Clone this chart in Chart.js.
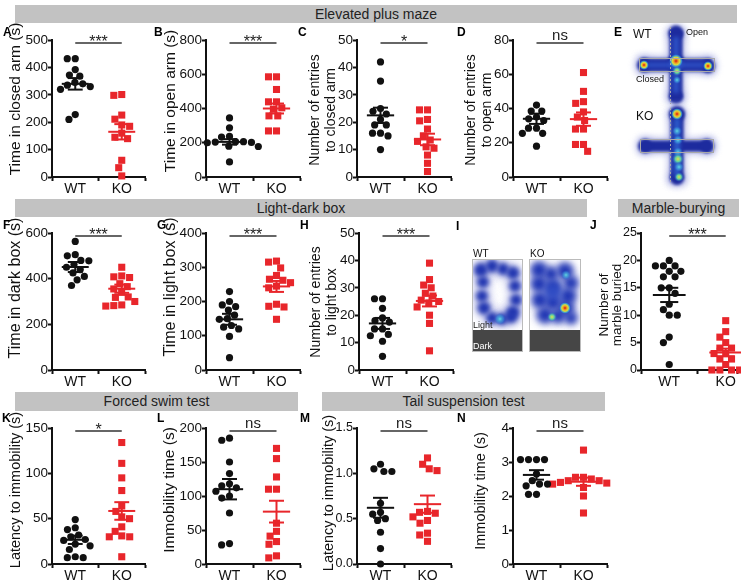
<!DOCTYPE html>
<html>
<head>
<meta charset="utf-8">
<script src="https://cdn.jsdelivr.net/npm/chart.js@4"></script>
<style>
  body { margin: 0; background: #fff; font-family: 'Liberation Sans', Arial, sans-serif; }
  #fig { position: relative; width: 741px; height: 581px; overflow: hidden; }
  .bar { position: absolute; background: #c2c2c2; color: #222; font-size: 14px; text-align: center; }
  .lbl { position: absolute; font-weight: bold; font-size: 12px; line-height: 1; color: #000; }
  canvas { position: absolute; }
</style>
</head>
<body>
<div id="fig">
  <canvas id="art" width="741" height="581" style="left:0;top:0"></canvas>
  <div class="bar" style="left:15px;top:5px;width:722px;height:18px;line-height:18px">Elevated plus maze</div>
  <div class="bar" style="left:15px;top:199px;width:572px;height:18px;line-height:18px">Light-dark box</div>
  <div class="bar" style="left:618px;top:199px;width:121px;height:18px;line-height:18px">Marble-burying</div>
  <div class="bar" style="left:15px;top:392px;width:283px;height:19px;line-height:19px">Forced swim test</div>
  <div class="bar" style="left:322px;top:392px;width:283px;height:19px;line-height:19px">Tail suspension test</div>
  <div class="lbl" style="left:3px;top:26px">A</div>
  <div class="lbl" style="left:154px;top:26px">B</div>
  <div class="lbl" style="left:298px;top:26px">C</div>
  <div class="lbl" style="left:457px;top:26px">D</div>
  <div class="lbl" style="left:614px;top:26px">E</div>
  <div class="lbl" style="left:3px;top:219px">F</div>
  <div class="lbl" style="left:157px;top:219px">G</div>
  <div class="lbl" style="left:300px;top:219px">H</div>
  <div class="lbl" style="left:456px;top:220px">I</div>
  <div class="lbl" style="left:590px;top:219px">J</div>
  <div class="lbl" style="left:2px;top:412px">K</div>
  <div class="lbl" style="left:157px;top:412px">L</div>
  <div class="lbl" style="left:300px;top:412px">M</div>
  <div class="lbl" style="left:457px;top:412px">N</div>
</div>
<script>
const FONT = "'Liberation Sans', Arial, sans-serif";
const RED = "#e8262b";
const BLACK = "#111";

const groups = ["WT", "KO"];

// A - elevated plus maze, time in closed arm
const closedArmWT = [432, 432, 392, 372, 368, 345, 340, 335, 330, 320, 228, 210];
const closedArmKO = [301, 298, 226, 211, 190, 185, 160, 145, 140, 61, 34, 4];
const closedArmMean = [340, 165];
const closedArmSem = [21, 28];
const closedArmTicks = [0, 100, 200, 300, 400, 500];

// B - time in open arm
const openArmWT = [345, 287, 237, 233, 206, 206, 204, 202, 200, 180, 178, 88];
const openArmKO = [585, 585, 511, 439, 439, 404, 396, 357, 357, 269, 269];
const openArmMean = [205, 400];
const openArmSem = [16, 29];
const openArmTicks = [0, 200, 400, 600, 800];

// C - entries to closed arm
const closedEntryWT = [42, 35, 25, 24, 23, 21, 19, 19, 16, 16, 15, 10];
const closedEntryKO = [24.5, 24.5, 21, 20.5, 17.5, 15, 13.5, 13, 11, 10.5, 8, 5, 2];
const closedEntryMean = [22.5, 13.7];
const closedEntrySem = [2.8, 2.1];
const closedEntryTicks = [0, 10, 20, 30, 40, 50];

// D - entries to open arm
const openEntryWT = [42, 38.5, 38.5, 35, 34, 33, 28.5, 28.5, 25.5, 25.5, 18];
const openEntryKO = [61, 50, 44, 43, 38, 35, 33, 28, 28, 19, 19, 15];
const openEntryMean = [34, 33.8];
const openEntrySem = [3, 3.9];
const openEntryTicks = [0, 20, 40, 60, 80];

// F - light-dark box, time in dark box
const darkBoxWT = [563, 505, 500, 480, 478, 462, 450, 440, 425, 410, 395, 370];
const darkBoxKO = [450, 412, 408, 405, 378, 365, 355, 340, 320, 318, 300, 285, 282, 280];
const darkBoxMean = [451, 356];
const darkBoxSem = [22, 18];
const darkBoxTicks = [0, 200, 400, 600];

// G - time in light box
const lightBoxWT = [229, 200, 190, 185, 175, 160, 150, 148, 130, 125, 120, 98, 36];
const lightBoxKO = [318, 315, 298, 276, 265, 262, 255, 245, 240, 192, 186, 184, 148];
const lightBoxMean = [148, 244];
const lightBoxSem = [16, 16];
const lightBoxTicks = [0, 100, 200, 300, 400];

// H - entries to light box
const lightEntryWT = [26, 26, 22.5, 19, 18, 17.5, 15, 15, 13, 12.5, 10.5, 5];
const lightEntryKO = [39, 33, 31, 30, 28, 27, 25.5, 25, 24.5, 23, 20, 17, 7];
const lightEntryMean = [17, 25.2];
const lightEntrySem = [2, 2];
const lightEntryTicks = [0, 10, 20, 30, 40, 50];

// J - marble burying
const marbleWT = [20, 19, 19, 19, 18, 18, 17, 17, 15, 15, 14, 12, 11, 10, 10, 6, 5, 1];
const marbleKO = [9, 7, 6, 5, 4, 4, 3, 3, 2, 2, 1, 0, 0, 0, 0];
const marbleMean = [13.7, 3.2];
const marbleSem = [1.3, 0.7];
const marbleTicks = [0, 5, 10, 15, 20, 25];

// K - forced swim, latency to immobility
const swimLatencyWT = [49, 40, 38, 32, 30, 27, 26, 22, 20, 16, 8, 7, 7];
const swimLatencyKO = [134, 111, 95, 81, 64, 58, 52, 50, 41, 36, 31, 30, 30, 8];
const swimLatencyMean = [26.7, 58.5];
const swimLatencySem = [4.6, 9.7];
const swimLatencyTicks = [0, 50, 100, 150];

// L - forced swim, immobility time
const swimImmobileWT = [185, 182, 150, 133, 118, 115, 112, 107, 100, 97, 75, 30, 28];
const swimImmobileKO = [170, 155, 128, 110, 110, 60, 48, 41, 33, 29, 12, 9];
const swimImmobileMean = [110, 77];
const swimImmobileSem = [15, 16];
const swimImmobileTicks = [0, 50, 100, 150, 200];

// M - tail suspension, latency to immobility
const tailLatencyWT = [1.10, 1.05, 1.02, 1.02, 0.67, 0.57, 0.55, 0.50, 0.48, 0.35, 0.17, 0.0];
const tailLatencyKO = [1.17, 1.10, 1.05, 1.03, 0.58, 0.57, 0.56, 0.52, 0.48, 0.45, 0.34, 0.32, 0.25];
const tailLatencyMean = [0.62, 0.66];
const tailLatencySem = [0.11, 0.095];
const tailLatencyTicks = [0, 0.5, 1.0, 1.5];

// N - tail suspension, immobility time
const tailImmobileWT = [3.07, 3.07, 3.07, 3.07, 2.65, 2.45, 2.35, 2.35, 2.30, 2.05, 2.05];
const tailImmobileKO = [3.35, 2.55, 2.55, 2.5, 2.45, 2.45, 2.4, 2.38, 2.35, 2.25, 2.0, 1.5];
const tailImmobileMean = [2.62, 2.42];
const tailImmobileSem = [0.14, 0.12];
const tailImmobileTicks = [0, 1, 2, 3, 4];

// panel placement (page pixels)
const panels = [
  { wt: closedArmWT, ko: closedArmKO, mean: closedArmMean, sem: closedArmSem, ticks: closedArmTicks,
    title: ["Time in closed arm (s)"], sig: "***", axisX: 52, right: 145, top: 40, bottom: 177, titleX: 16, titleY: 99, titleSize: 15.5 },
  { wt: openArmWT, ko: openArmKO, mean: openArmMean, sem: openArmSem, ticks: openArmTicks,
    title: ["Time in open arm (s)"], sig: "***", axisX: 206, right: 300, top: 40, bottom: 177, titleX: 170.5, titleY: 101, titleSize: 15.5 },
  { wt: closedEntryWT, ko: closedEntryKO, mean: closedEntryMean, sem: closedEntrySem, ticks: closedEntryTicks,
    title: ["Number of entries", "to closed arm"], sig: "*", axisX: 357, right: 451, top: 40, bottom: 177, titleX: 315, titleY: 110, titleSize: 14, lineGap: 16.5 },
  { wt: openEntryWT, ko: openEntryKO, mean: openEntryMean, sem: openEntrySem, ticks: openEntryTicks,
    title: ["Number of entries", "to open arm"], sig: "ns", axisX: 513, right: 607, top: 40, bottom: 177, titleX: 471, titleY: 110, titleSize: 14, lineGap: 16.5 },
  { wt: darkBoxWT, ko: darkBoxKO, mean: darkBoxMean, sem: darkBoxSem, ticks: darkBoxTicks,
    title: ["Time in dark box (s)"], sig: "***", axisX: 52, right: 145, top: 233, bottom: 370, titleX: 16, titleY: 288, titleSize: 16 },
  { wt: lightBoxWT, ko: lightBoxKO, mean: lightBoxMean, sem: lightBoxSem, ticks: lightBoxTicks,
    title: ["Time in light box (s)"], sig: "***", axisX: 206, right: 300, top: 233, bottom: 370, titleX: 170.5, titleY: 287, titleSize: 16 },
  { wt: lightEntryWT, ko: lightEntryKO, mean: lightEntryMean, sem: lightEntrySem, ticks: lightEntryTicks,
    title: ["Number of entries", "to light box"], sig: "***", axisX: 359, right: 453, top: 233, bottom: 370, titleX: 316, titleY: 302, titleSize: 14, lineGap: 16.5 },
  { wt: marbleWT, ko: marbleKO, mean: marbleMean, sem: marbleSem, ticks: marbleTicks,
    title: ["Number of", "marble buried"], sig: "***", axisX: 641, right: 737, top: 233, bottom: 370, titleX: 604.5, titleY: 305, titleSize: 13.5, lineGap: 13, tickSize: 12.5, xMax: 2.2 },
  { wt: swimLatencyWT, ko: swimLatencyKO, mean: swimLatencyMean, sem: swimLatencySem, ticks: swimLatencyTicks,
    title: ["Latency to immobility (s)"], sig: "*", axisX: 52, right: 145, top: 428, bottom: 564, titleX: 16, titleY: 490, titleSize: 14.5 },
  { wt: swimImmobileWT, ko: swimImmobileKO, mean: swimImmobileMean, sem: swimImmobileSem, ticks: swimImmobileTicks,
    title: ["Immobility time (s)"], sig: "ns", axisX: 206, right: 300, top: 428, bottom: 564, titleX: 170, titleY: 490, titleSize: 15.5 },
  { wt: tailLatencyWT, ko: tailLatencyKO, mean: tailLatencyMean, sem: tailLatencySem, ticks: tailLatencyTicks,
    title: ["Latency to immobility (s)"], sig: "ns", axisX: 357, right: 451, top: 428, bottom: 564, titleX: 329, titleY: 493, titleSize: 14.5, tickSize: 12.5, decimals: 1 },
  { wt: tailImmobileWT, ko: tailImmobileKO, mean: tailImmobileMean, sem: tailImmobileSem, ticks: tailImmobileTicks,
    title: ["Immobility time (s)"], sig: "ns", axisX: 513, right: 607, top: 428, bottom: 564, titleX: 481, titleY: 491, titleSize: 14.5 }
];

// lay points out side by side so they do not overlap (like a column scatter)
function swarm(values, center, pxX, pxY, d) {
  const idx = values.map((v, i) => i).sort((a, b) => values[b] - values[a]);
  const placed = [];
  const out = [];
  idx.forEach(i => {
    const y = values[i] * pxY;
    const cands = [0];
    placed.forEach(p => {
      const dy = Math.abs(p.y - y);
      if (dy < d) {
        const dx = Math.sqrt(d * d - dy * dy);
        cands.push(p.x + dx, p.x - dx);
      }
    });
    cands.sort((a, b) => Math.abs(a) - Math.abs(b) || a - b);
    const x = cands.find(c => placed.every(p => (p.x - c) ** 2 + (p.y - y) ** 2 >= d * d - 0.01));
    placed.push({ x, y });
    out[i] = { x: center + x / pxX, y: values[i] };
  });
  return out;
}

function summaryLines(c, m, s, color) {
  return [
    [{ x: c - 0.29, y: m }, { x: c + 0.29, y: m }],
    [{ x: c, y: m - s }, { x: c, y: m + s }],
    [{ x: c - 0.16, y: m + s }, { x: c + 0.16, y: m + s }],
    [{ x: c - 0.16, y: m - s }, { x: c + 0.16, y: m - s }]
  ].map(data => ({
    data, showLine: true, borderColor: color, borderWidth: 2,
    pointRadius: 0, clip: false, order: 0
  }));
}

const sigPlugin = {
  id: "sig",
  afterDatasetsDraw(chart, args, o) {
    const { ctx, chartArea, scales } = chart;
    const x1 = scales.x.getPixelForValue(1);
    const x2 = scales.x.getPixelForValue(2);
    const y = chartArea.top + 3;
    ctx.save();
    ctx.strokeStyle = "#333";
    ctx.lineWidth = 1.5;
    ctx.beginPath();
    ctx.moveTo(x1, y);
    ctx.lineTo(x2, y);
    ctx.stroke();
    ctx.fillStyle = "#222";
    ctx.textAlign = "center";
    ctx.textBaseline = "alphabetic";
    if (o.text === "ns") {
      ctx.font = "15px " + FONT;
      ctx.fillText(o.text, (x1 + x2) / 2, y - 3);
    } else {
      ctx.font = "16px " + FONT;
      ctx.fillText(o.text, (x1 + x2) / 2, y + 4);
    }
    ctx.restore();
  }
};

const yTitlePlugin = {
  id: "ytitle",
  afterDraw(chart, args, o) {
    const ctx = chart.ctx;
    ctx.save();
    ctx.translate(o.x, o.y);
    ctx.rotate(-Math.PI / 2);
    ctx.font = o.size + "px " + FONT;
    ctx.fillStyle = BLACK;
    ctx.textAlign = "center";
    ctx.textBaseline = "middle";
    o.lines.forEach((t, i) => ctx.fillText(t, 0, i * o.gap));
    ctx.restore();
  }
};

Chart.defaults.font.family = FONT;
Chart.defaults.color = BLACK;

const fig = document.getElementById("fig");
const PAD_TOP = 22;
const X_H = 24;

panels.forEach(p => {
  const xMax = p.xMax || 2.5;
  const yMax = p.ticks[p.ticks.length - 1];
  const plotH = p.bottom - p.top;
  const left = Math.round(p.titleX - 12);
  const top = p.top - PAD_TOP;
  const w = Math.ceil(p.right - left + 5);
  const h = PAD_TOP + plotH + X_H;

  const cv = document.createElement("canvas");
  cv.width = w;
  cv.height = h;
  cv.style.left = left + "px";
  cv.style.top = top + "px";
  cv.style.width = w + "px";
  cv.style.height = h + "px";
  fig.appendChild(cv);

  const pxX = (p.right - p.axisX) / (xMax - 0.5);
  const pxY = plotH / yMax;

  const datasets = [
    ...summaryLines(1, p.mean[0], p.sem[0], BLACK),
    ...summaryLines(2, p.mean[1], p.sem[1], RED),
    {
      data: swarm(p.wt, 1, pxX, pxY, 8), pointStyle: "circle", pointRadius: 3.6,
      backgroundColor: BLACK, borderWidth: 0, clip: false, order: 1
    },
    {
      data: swarm(p.ko, 2, pxX, pxY, 8), pointStyle: "rect", pointRadius: 5,
      backgroundColor: RED, borderWidth: 0, clip: false, order: 1
    }
  ];

  const xTicks = [0.5, 1, 1.5, 2, xMax];

  new Chart(cv, {
    type: "scatter",
    data: { datasets },
    plugins: [sigPlugin, yTitlePlugin],
    options: {
      responsive: false,
      maintainAspectRatio: false,
      animation: false,
      events: [],
      layout: { padding: { top: PAD_TOP, right: w - (p.right - left), left: 0, bottom: 0 } },
      plugins: {
        legend: { display: false },
        tooltip: { enabled: false },
        sig: { text: p.sig },
        ytitle: {
          lines: p.title, x: p.titleX - left, y: p.titleY - top,
          size: p.titleSize, gap: p.lineGap || p.titleSize * 1.2
        }
      },
      scales: {
        x: {
          type: "linear",
          min: 0.5,
          max: xMax,
          afterBuildTicks: s => { s.ticks = xTicks.map(v => ({ value: v })); },
          afterFit: s => { s.height = X_H; },
          ticks: {
            autoSkip: false,
            maxRotation: 0,
            padding: 0,
            font: { size: 14 },
            color: BLACK,
            callback: v => (v === 1 ? groups[0] : v === 2 ? groups[1] : "")
          },
          grid: {
            drawOnChartArea: false,
            tickLength: 4,
            tickWidth: 2,
            tickColor: c => (c.tick && c.tick.value % 1 !== 0 ? BLACK : "rgba(0,0,0,0)")
          },
          border: { color: BLACK, width: 2 }
        },
        y: {
          type: "linear",
          min: 0,
          max: yMax,
          afterBuildTicks: s => { s.ticks = p.ticks.map(v => ({ value: v })); },
          afterFit: s => { s.width = p.axisX - left; },
          ticks: {
            padding: 0,
            font: { size: p.tickSize || 13.5 },
            color: BLACK,
            callback: v => (p.decimals ? v.toFixed(p.decimals) : String(v))
          },
          grid: { drawOnChartArea: false, tickLength: 4, tickWidth: 2, tickColor: BLACK },
          border: { color: BLACK, width: 2 }
        }
      }
    }
  });
});

// heat-map thumbnails (panels E and I)
const art = document.getElementById("art").getContext("2d");

function fillShapes(ctx, color, blur, rects, circles) {
  ctx.save();
  ctx.filter = "blur(" + blur + "px)";
  ctx.fillStyle = color;
  rects.forEach(([x, y, w, h]) => ctx.fillRect(x, y, w, h));
  circles.forEach(([x, y, r]) => {
    ctx.beginPath();
    ctx.arc(x, y, r, 0, Math.PI * 2);
    ctx.fill();
  });
  ctx.restore();
}

const HOT = [[0, "#d81010"], [0.3, "#f09a20"], [0.55, "#d8e040"], [0.8, "rgba(60,190,220,0.6)"], [1, "rgba(40,90,210,0)"]];
const WARM = [[0, "#e0e050"], [0.45, "#60d0a0"], [1, "rgba(40,90,210,0)"]];
const COOL = [[0, "#60d8e0"], [0.6, "rgba(60,150,220,0.6)"], [1, "rgba(40,90,210,0)"]];

function spot(ctx, x, y, r, stops) {
  const g = ctx.createRadialGradient(x, y, 0, x, y, r);
  stops.forEach(([o, c]) => g.addColorStop(o, c));
  ctx.fillStyle = g;
  ctx.beginPath();
  ctx.arc(x, y, r, 0, Math.PI * 2);
  ctx.fill();
}

function drawText(ctx, t, x, y, size, color) {
  ctx.font = size + "px " + FONT;
  ctx.fillStyle = color;
  ctx.textAlign = "left";
  ctx.textBaseline = "alphabetic";
  ctx.fillText(t, x, y);
}

// E: elevated plus maze tracks
fillShapes(art, "#b9bde8", 3.5, [[667, 29, 18, 72], [638, 56, 76, 18]], [[676, 33, 9], [676, 97, 9], [644, 65, 9], [708, 66, 9]]);
fillShapes(art, "#1d2b9e", 1.6, [[669.5, 31, 13, 67], [641, 58.5, 70, 13]], [[676, 33, 7.5], [676, 97, 7], [644, 65, 7], [708, 66, 7], [676, 63, 9]]);
fillShapes(art, "#2d52c6", 2, [[673, 37, 6, 56], [647, 62.5, 58, 5]], [[676, 64, 6]]);
spot(art, 676, 61, 7, HOT);
spot(art, 644, 65, 5, HOT);
spot(art, 708, 66, 5, HOT);
spot(art, 677, 71, 5, WARM);
spot(art, 677, 80, 4, COOL);

fillShapes(art, "#b9bde8", 3.5, [[668, 110, 18, 74], [640, 138, 74, 16]], [[677, 114, 9], [677, 178, 9], [645, 146, 9], [707, 146, 9]]);
fillShapes(art, "#1d2b9e", 1.6, [[670.5, 112, 13, 67], [643, 140.5, 66, 11]], [[677, 114, 8], [677, 178, 7], [645, 146, 7], [707, 146, 7]]);
fillShapes(art, "#2d5ccc", 2, [[674, 118, 6, 58]], []);
spot(art, 677, 114, 6, HOT);
spot(art, 677, 131, 5, COOL);
spot(art, 678, 140, 5, COOL);
spot(art, 678, 152, 5, COOL);
spot(art, 678, 159, 6, WARM);
spot(art, 679, 167, 5, COOL);
spot(art, 679, 177, 5, WARM);

art.save();
art.strokeStyle = "#a8a8a8";
art.lineWidth = 1;
art.strokeRect(639.5, 58.5, 75, 13);
art.strokeRect(640.5, 139.5, 73, 13);
art.setLineDash([2, 2]);
art.beginPath();
art.moveTo(670.5, 27);
art.lineTo(670.5, 104);
art.moveTo(670.5, 108);
art.lineTo(670.5, 184);
art.stroke();
art.restore();

drawText(art, "WT", 633, 38, 12, "#111");
drawText(art, "Open", 686, 35, 9, "#111");
drawText(art, "Closed", 636, 82, 9, "#111");
drawText(art, "KO", 636, 120, 12, "#111");

// I: light-dark box tracks
art.save();
art.fillStyle = "#fff";
art.fillRect(472, 259, 51, 71);
art.fillRect(529, 259, 52, 71);
art.fillStyle = "#464646";
art.fillRect(472, 330, 51, 22);
art.fillRect(529, 330, 52, 22);
art.strokeStyle = "#bbb";
art.strokeRect(472.5, 259.5, 50, 92);
art.strokeRect(529.5, 259.5, 51, 92);
art.restore();

const ringWT = [[481, 270, 7], [492, 266, 6.5], [503, 269, 6], [513, 273, 6.5], [483, 282, 6], [482, 296, 6],
  [484, 308, 6.5], [515, 286, 6], [516, 300, 6], [513, 312, 6.5], [492, 318, 6], [502, 319, 6], [511, 317, 6]];
const blobKO = [[539, 270, 8], [551, 274, 7], [565, 271, 8], [571, 283, 7], [539, 284, 8], [553, 287, 8], [568, 296, 8],
  [540, 300, 8], [553, 302, 8], [566, 308, 8], [545, 315, 8], [558, 316, 7], [571, 318, 6]];

art.save();
art.beginPath();
art.rect(473, 260, 49, 70);
art.rect(530, 260, 50, 70);
art.clip();
fillShapes(art, "#c3c6ec", 4, [], ringWT.map(([x, y, r]) => [x, y, r + 3]));
fillShapes(art, "#2236b0", 2.5, [], ringWT);
spot(art, 500, 319, 6, COOL);
fillShapes(art, "#c3c6ec", 4, [], blobKO.map(([x, y, r]) => [x, y, r + 2]));
fillShapes(art, "#2238b4", 3, [], blobKO);
fillShapes(art, "#2f4cc4", 4, [], [[553, 292, 9]]);
spot(art, 566, 275, 5, COOL);
spot(art, 565, 308, 6, HOT);
spot(art, 552, 317, 5, WARM);
art.restore();

drawText(art, "WT", 473, 257, 10, "#111");
drawText(art, "KO", 530, 257, 10, "#111");
drawText(art, "Light", 473, 328, 9, "#222");
drawText(art, "Dark", 473, 349, 9, "#fff");
</script>
</body>
</html>
